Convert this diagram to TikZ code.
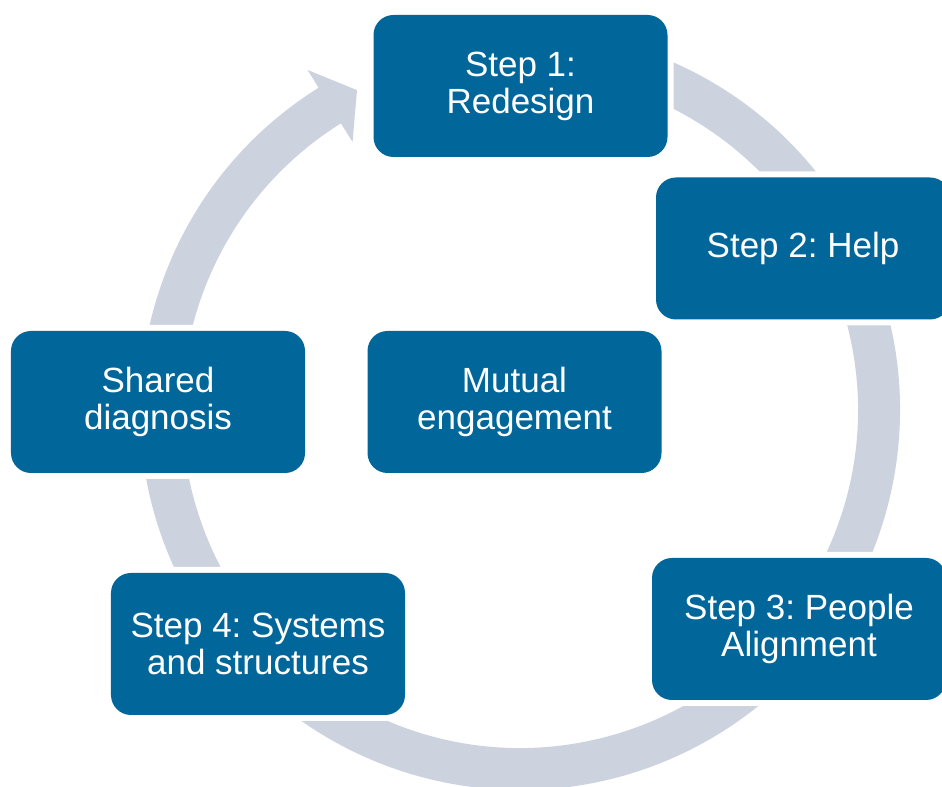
\documentclass[tikz,border=0pt]{standalone}
\usepackage{fontspec}
\setmainfont{Liberation Sans}
\usepackage{tikz}
\frenchspacing

\definecolor{boxblue}{RGB}{1,102,153}
\definecolor{ringgray}{RGB}{204,211,222}

\begin{document}
\begin{tikzpicture}[x=1bp, y=1bp,
    every node/.style={rounded corners=20bp, fill=boxblue, text=white,
        minimum width=294bp, minimum height=142bp, align=center,
        font=\fontsize{35bp}{37bp}\selectfont,
        preaction={draw=white, line width=12bp}}]
    \useasboundingbox (0,0) rectangle (942,787);

    % ring with arrowhead
    \fill[ringgray, shift={(520,377)}] (465:338) arc[start angle=465, end angle=122, radius=338]
        -- (122:316) -- (117:359) -- (122:401) -- (122:380)
        arc[start angle=122, end angle=465, radius=380] -- cycle;

    \node (S1) at (520.5,701) {Step 1:\\Redesign};
    \node (S2) at (803,538.5) {Step 2: Help};
    \node (S3) at (799,158) {Step 3: People\\Alignment};
    \node (S4) at (258,143) {Step 4: Systems\\and structures};
    \node (D) at (158,385) {Shared\\diagnosis};
    \node (M) at (514.5,385) {Mutual\\engagement};
\end{tikzpicture}
\end{document}
